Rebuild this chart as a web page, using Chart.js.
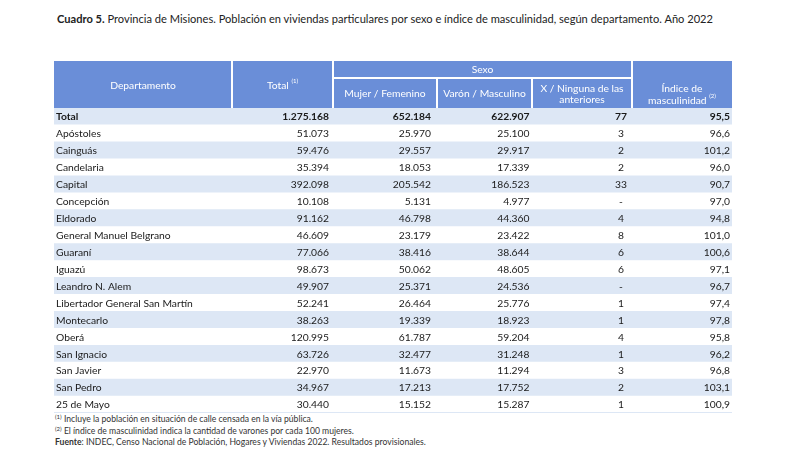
<!DOCTYPE html>
<html>
<head>
<meta charset="utf-8">
<script src="https://cdn.jsdelivr.net/npm/chart.js@4/dist/chart.umd.min.js"></script>
<style>
  body { margin: 0; background: #fff; font-family: Lato, "Open Sans", sans-serif; color: #1a1a1a; }
  .titulo { position: absolute; left: 57px; top: 12px; font-size: 11.1px; white-space: nowrap; color: #222; }
  .tabla { position: absolute; left: 54px; top: 61px; width: 678px; height: 352px; }
  .notas { position: absolute; left: 55px; top: 414px; font-size: 8.6px; line-height: 11.5px; white-space: nowrap; color: #333; }
  sup { font-size: 6px; vertical-align: 3px; line-height: 0; }
</style>
</head>
<body>
<div class="titulo"><b>Cuadro 5.</b> Provincia de Misiones. Población en viviendas particulares por sexo e índice de masculinidad, según departamento. Año 2022</div>
<div class="tabla"><canvas id="chart"></canvas></div>
<div class="notas">
  <div><sup>(1)</sup> Incluye la población en situación de calle censada en la vía pública.</div>
  <div><sup>(2)</sup> El índice de masculinidad indica la cantidad de varones por cada 100 mujeres.</div>
  <div><b>Fuente</b>: INDEC, Censo Nacional de Población, Hogares y Viviendas 2022. Resultados provisionales.</div>
</div>
<script>
const departamentos = ["Total", "Apóstoles", "Cainguás", "Candelaria", "Capital", "Concepción", "Eldorado",
  "General Manuel Belgrano", "Guaraní", "Iguazú", "Leandro N. Alem", "Libertador General San Martín",
  "Montecarlo", "Oberá", "San Ignacio", "San Javier", "San Pedro", "25 de Mayo"];
const poblacionTotal = [1275168, 51073, 59476, 35394, 392098, 10108, 91162, 46609, 77066, 98673, 49907,
  52241, 38263, 120995, 63726, 22970, 34967, 30440];
const mujeres = [652184, 25970, 29557, 18053, 205542, 5131, 46798, 23179, 38416, 50062, 25371,
  26464, 19339, 61787, 32477, 11673, 17213, 15152];
const varones = [622907, 25100, 29917, 17339, 186523, 4977, 44360, 23422, 38644, 48605, 24536,
  25776, 18923, 59204, 31248, 11294, 17752, 15287];
const ninguna = [77, 3, 2, 2, 33, 0, 4, 8, 6, 6, 0, 1, 1, 4, 1, 3, 2, 1];
const indiceMasc = [95.5, 96.6, 101.2, 96.0, 90.7, 97.0, 94.8, 101.0, 100.6, 97.1, 96.7,
  97.4, 97.8, 95.8, 96.2, 96.8, 103.1, 100.9];

const HEADER_BG = "#6a8ed8";
const STRIPE = "#dde7f5";
const FONT = "Lato, 'Open Sans', sans-serif";
const SIZE = "10.3px ";
// bordes de columnas en px dentro de la tabla
const colX = [0, 178, 279, 383, 478, 578, 678];

function miles(n) {
  return String(n).replace(/\B(?=(\d{3})+(?!\d))/g, ".");
}
function decimal(v) {
  return v.toFixed(1).replace(".", ",");
}

const tablaPlugin = {
  id: "tabla",
  afterDatasetsDraw(chart) {
    const { ctx, chartArea, scales } = chart;
    const x0 = chartArea.left;
    const hTop = 0, hMid = 17, hBot = chartArea.top;

    // encabezado
    ctx.save();
    ctx.fillStyle = HEADER_BG;
    const cell = (a, b, t, btm) => ctx.fillRect(x0 + colX[a] + (a ? 1 : 0), t, colX[b] - colX[a] - (a ? 1 : 0) - (b < 6 ? 1 : 0), btm - t);
    cell(0, 1, hTop, hBot);
    cell(1, 2, hTop, hBot);
    cell(2, 5, hTop, hMid - 1);
    cell(2, 3, hMid + 1, hBot);
    cell(3, 4, hMid + 1, hBot);
    cell(4, 5, hMid + 1, hBot);
    cell(5, 6, hTop, hBot);

    ctx.fillStyle = "#fff";
    ctx.textBaseline = "middle";
    ctx.textAlign = "center";
    ctx.font = SIZE + FONT;
    const mid = (a, b) => x0 + (colX[a] + colX[b]) / 2;
    const supText = (main, sup, cx, cy) => {
      ctx.font = SIZE + FONT;
      const w1 = ctx.measureText(main + " ").width;
      ctx.font = "6px " + FONT;
      const w2 = ctx.measureText(sup).width;
      const start = cx - (w1 + w2) / 2;
      ctx.textAlign = "left";
      ctx.font = SIZE + FONT;
      ctx.fillText(main + " ", start, cy);
      ctx.font = "6px " + FONT;
      ctx.fillText(sup, start + w1, cy - 4);
      ctx.textAlign = "center";
      ctx.font = SIZE + FONT;
    };
    ctx.fillText("Departamento", mid(0, 1), 24.5);
    supText("Total", "(1)", mid(1, 2), 24.5);
    ctx.fillText("Sexo", mid(2, 5), 9);
    ctx.fillText("Mujer / Femenino", mid(2, 3), 32.5);
    ctx.fillText("Varón / Masculino", mid(3, 4), 32.5);
    ctx.fillText("X / Ninguna de las", mid(4, 5), 28);
    ctx.fillText("anteriores", mid(4, 5), 39);
    ctx.fillText("Índice de", mid(5, 6), 28);
    supText("masculinidad", "(2)", mid(5, 6), 39.5);

    // cuerpo
    ctx.fillStyle = "#1a1a1a";
    departamentos.forEach((d, i) => {
      const y = scales.y.getPixelForValue(i) + 0.5;
      ctx.font = (i === 0 ? "bold " : "") + SIZE + FONT;
      ctx.textAlign = "left";
      ctx.fillText(d, x0 + 2, y);
      ctx.textAlign = "right";
      ctx.fillText(miles(poblacionTotal[i]), x0 + 275, y);
      ctx.fillText(miles(mujeres[i]), x0 + 377, y);
      ctx.fillText(miles(varones[i]), x0 + 475.5, y);
      ctx.fillText(decimal(indiceMasc[i]), x0 + 676, y);
      ctx.textAlign = "center";
      ctx.fillText(ninguna[i] ? String(ninguna[i]) : "-", x0 + 567, y);
    });

    ctx.fillStyle = STRIPE;
    ctx.fillRect(x0, chartArea.bottom - 1, 678, 1);
    ctx.restore();
  }
};

new Chart(document.getElementById("chart"), {
  type: "bar",
  data: {
    labels: departamentos,
    datasets: [{
      data: departamentos.map(() => [0, 1]),
      backgroundColor: departamentos.map((_, i) => (i % 2 === 0 ? STRIPE : "#ffffff")),
      barPercentage: 1,
      categoryPercentage: 1,
      borderWidth: 0
    }]
  },
  options: {
    indexAxis: "y",
    responsive: true,
    maintainAspectRatio: false,
    animation: false,
    devicePixelRatio: 1,
    layout: { padding: { top: 47, left: 0, right: 0, bottom: 0 } },
    scales: {
      x: { type: "linear", min: 0, max: 1, display: false },
      y: { display: false, offset: true }
    },
    plugins: { legend: { display: false }, tooltip: { enabled: false }, title: { display: false } }
  },
  plugins: [tablaPlugin]
});
</script>
</body>
</html>
